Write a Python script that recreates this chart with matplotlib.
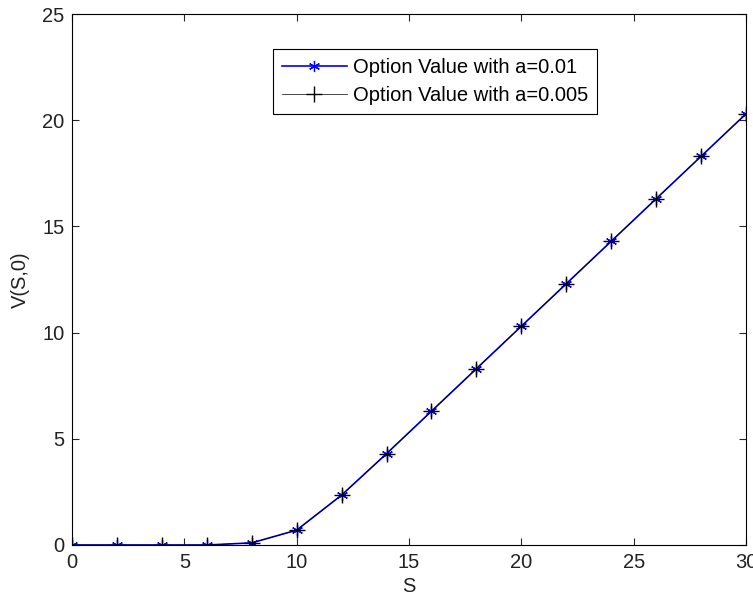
import matplotlib.pyplot as plt

# data
S = [0, 2, 4, 6, 8, 10, 12, 14, 16, 18, 20, 22, 24, 26, 28, 30]
V_a001 = [0, 0, 0, 0, 0.1, 0.7, 2.35, 4.3, 6.3, 8.3, 10.3, 12.3, 14.3, 16.3, 18.3, 20.3]
V_a0005 = [0, 0, 0, 0, 0.1, 0.7, 2.35, 4.3, 6.3, 8.3, 10.3, 12.3, 14.3, 16.3, 18.3, 20.3]

plt.rcParams['font.family'] = ['Liberation Sans', 'DejaVu Sans']
fs = 14.5

fig = plt.figure(figsize=(7.53, 5.98), dpi=100)
ax = fig.add_axes([72 / 753, 1 - 545 / 598, 674 / 753, 531 / 598])

# matlab-style asterisk marker
asterisk = (6, 2, 0)
ax.plot(S, V_a001, color='blue', marker=asterisk, markersize=8, linewidth=1.2,
        markeredgewidth=0.9, label='Option Value with a=0.01')
ax.plot(S, V_a0005, color='black', marker='+', markersize=12, linewidth=0.5,
        markeredgewidth=1, label='Option Value with a=0.005')

ax.set_xlim(0, 30)
ax.set_ylim(0, 25)
ax.set_xticks(range(0, 31, 5))
ax.set_yticks(range(0, 26, 5))
ax.tick_params(direction='in', top=True, right=True, length=5, colors='#262626',
               labelcolor='#222222', labelsize=fs)
ax.tick_params(axis='x', pad=5.5)
ax.tick_params(axis='y', pad=5.5)
for sp in ax.spines.values():
    sp.set_linewidth(0.8)
ax.set_xlabel('S', fontsize=fs, color='#222222')
ax.xaxis.set_label_coords(0.5, -(577 - 545) / 531)
ax.set_ylabel('V(S,0)', fontsize=fs, color='#222222')
ax.yaxis.set_label_coords(-(72 - 30) / 674, 0.5)

leg = ax.legend(loc='upper left', bbox_to_anchor=((273 - 72) / 674, (545 - 49) / 531),
                fancybox=False, framealpha=1, edgecolor='black', fontsize=fs,
                handlelength=3.2, borderpad=0.45, labelspacing=0.45, handletextpad=0.3,
                borderaxespad=0)
leg.get_frame().set_linewidth(0.8)

fig.savefig('out.png', dpi=100)
